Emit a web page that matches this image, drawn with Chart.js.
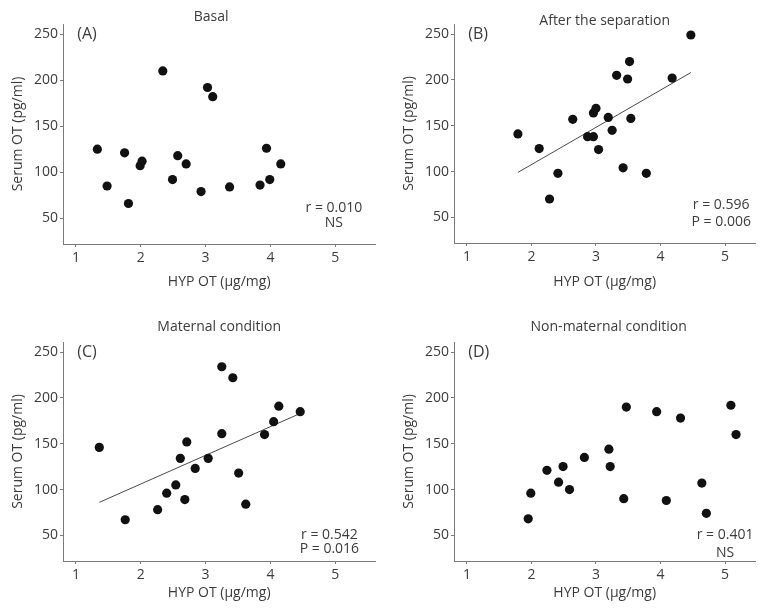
<!DOCTYPE html>
<html>
<head>
<meta charset="utf-8">
<script src="https://cdn.jsdelivr.net/npm/chart.js@4.4.1/dist/chart.umd.min.js"></script>
<style>
  html, body { margin: 0; padding: 0; background: #fff; }
  body { width: 760px; height: 608px; position: relative; overflow: hidden; }
  .panel { position: absolute; }
</style>
</head>
<body>
<div class="panel" style="left:0;top:0;width:380px;height:300px"><canvas id="chartA"></canvas></div>
<div class="panel" style="left:391px;top:0;width:369px;height:300px"><canvas id="chartB"></canvas></div>
<div class="panel" style="left:0;top:300px;width:380px;height:308px"><canvas id="chartC"></canvas></div>
<div class="panel" style="left:391px;top:300px;width:369px;height:308px"><canvas id="chartD"></canvas></div>
<script>
// tick labels
const xTicks = [1, 2, 3, 4, 5];
const yTicks = [50, 100, 150, 200, 250];

// (A) basal
const basalX = [1.33, 1.48, 1.75, 1.81, 1.99, 2.02, 2.34, 2.49, 2.57, 2.70, 2.93, 3.03, 3.11, 3.37, 3.84, 3.94, 3.99, 4.16];
const basalY = [125, 85, 121, 66, 107, 112, 210, 92, 118, 109, 79, 192, 182, 84, 86, 126, 92, 109];

// (B) after the separation
const separationX = [1.79, 2.12, 2.28, 2.41, 2.64, 2.87, 2.96, 2.96, 3.00, 3.04, 3.19, 3.25, 3.32, 3.42, 3.49, 3.52, 3.54, 3.78, 4.18, 4.47];
const separationY = [141, 125, 70, 98, 157, 138, 138, 164, 169, 124, 159, 145, 205, 104, 201, 220, 158, 98, 202, 249];
const separationFitX = [1.79, 4.47];
const separationFitY = [99, 208];

// (C) maternal condition
const maternalX = [1.36, 1.76, 2.26, 2.40, 2.54, 2.61, 2.68, 2.71, 2.84, 3.04, 3.25, 3.25, 3.42, 3.51, 3.62, 3.91, 4.05, 4.13, 4.46];
const maternalY = [146, 67, 78, 96, 105, 134, 89, 152, 123, 134, 161, 234, 222, 118, 84, 160, 174, 191, 185];
const maternalFitX = [1.36, 4.46];
const maternalFitY = [86, 183];

// (D) non-maternal condition
const nonMaternalX = [1.95, 1.99, 2.24, 2.42, 2.49, 2.59, 2.82, 3.20, 3.22, 3.43, 3.47, 3.94, 4.09, 4.31, 4.64, 4.71, 5.09, 5.17];
const nonMaternalY = [68, 96, 121, 108, 125, 100, 135, 144, 125, 90, 190, 185, 88, 178, 107, 74, 192, 160];

const panelTitles = ["Basal", "After the separation", "Maternal condition", "Non-maternal condition"];
const panelLetters = ["(A)", "(B)", "(C)", "(D)"];
const panelStats = [["r = 0.010", "NS"], ["r = 0.596", "P = 0.006"], ["r = 0.542", "P = 0.016"], ["r = 0.401", "NS"]];

const TEXT = "#3c3c3c";
const AXIS = "#7a7a7a";
const DOT = "#111";
const FAMILY = "'Open Sans', 'Noto Sans', sans-serif";

const $ = (id) => document.getElementById(id);

function toPoints(xs, ys) {
  return xs.map((x, i) => ({ x, y: ys[i] }));
}

// titles, panel letters and r / P notes
const panelText = {
  id: "panelText",
  afterDatasetsDraw(chart, args, opts) {
    const { ctx, chartArea } = chart;
    const sx = chart.scales.x;
    const sy = chart.scales.y;
    ctx.save();
    ctx.fillStyle = TEXT;
    ctx.textBaseline = "middle";

    ctx.font = `14px ${FAMILY}`;
    ctx.textAlign = "center";
    ctx.fillText(opts.title, (chartArea.left + chartArea.right) / 2 + opts.titleShift, opts.titleY);

    ctx.font = `16px ${FAMILY}`;
    ctx.textAlign = "left";
    ctx.fillText(opts.letter, sx.getPixelForValue(1.02), sy.getPixelForValue(250));

    ctx.font = `14px ${FAMILY}`;
    ctx.textAlign = "center";
    opts.stats.forEach((line, i) => {
      ctx.fillText(line, sx.getPixelForValue(opts.statX), sy.getPixelForValue(opts.statY[i]));
    });
    ctx.restore();
  }
};

function makeChart(id, cfg) {
  const font = { family: FAMILY, size: 14 };
  const datasets = [{
    data: toPoints(cfg.xs, cfg.ys),
    backgroundColor: DOT,
    borderWidth: 0,
    pointRadius: 4.6
  }];
  if (cfg.fitX) {
    datasets.push({
      data: toPoints(cfg.fitX, cfg.fitY),
      showLine: true,
      borderColor: "#4a4a4a",
      borderWidth: 1,
      pointRadius: 0
    });
  }

  return new Chart($(id), {
    type: "scatter",
    data: { datasets },
    options: {
      responsive: true,
      maintainAspectRatio: false,
      animation: false,
      layout: { padding: { top: cfg.padTop, left: 0, right: 0, bottom: 0 } },
      plugins: {
        legend: { display: false },
        tooltip: { enabled: false },
        panelText: cfg.text
      },
      scales: {
        x: {
          type: "linear",
          min: 0.8,
          max: cfg.xMax,
          afterBuildTicks: (axis) => { axis.ticks = xTicks.map((v) => ({ value: v })); },
          afterFit: (axis) => { axis.height = cfg.xAxisHeight; },
          grid: { drawOnChartArea: false, drawTicks: true, tickLength: 3, color: AXIS },
          border: { color: AXIS, width: 1 },
          ticks: { font, color: TEXT, padding: 3, maxRotation: 0 },
          title: { display: true, text: "HYP OT (μg/mg)", font, color: TEXT, padding: { top: 0, bottom: cfg.xTitlePad } }
        },
        y: {
          type: "linear",
          min: 22,
          max: 261,
          afterBuildTicks: (axis) => { axis.ticks = yTicks.map((v) => ({ value: v })); },
          afterFit: (axis) => { axis.width = 63; },
          grid: { drawOnChartArea: false, drawTicks: true, tickLength: 3, color: AXIS },
          border: { color: AXIS, width: 1 },
          ticks: { font, color: TEXT, padding: 2 },
          title: { display: true, text: "Serum OT (pg/ml)", font, color: TEXT, padding: { top: 9.6, bottom: 0 } }
        }
      }
    },
    plugins: [panelText]
  });
}

document.addEventListener("DOMContentLoaded", () => {
  makeChart("chartA", {
    xs: basalX, ys: basalY,
    xMax: 5.62, padTop: 24, xAxisHeight: 56, xTitlePad: 9.6,
    text: { title: panelTitles[0], titleY: 17, titleShift: -8, letter: panelLetters[0],
            stats: panelStats[0], statX: 4.98, statY: [61.4, 44.9] }
  });
  makeChart("chartB", {
    xs: separationX, ys: separationY, fitX: separationFitX, fitY: separationFitY,
    xMax: 5.47, padTop: 24, xAxisHeight: 57, xTitlePad: 9.6,
    text: { title: panelTitles[1], titleY: 21, titleShift: 0, letter: panelLetters[1],
            stats: panelStats[1], statX: 4.94, statY: [63.5, 44.9] }
  });
  makeChart("chartC", {
    xs: maternalX, ys: maternalY, fitX: maternalFitX, fitY: maternalFitY,
    xMax: 5.62, padTop: 42, xAxisHeight: 47, xTitlePad: 6.3,
    text: { title: panelTitles[2], titleY: 27, titleShift: 0, letter: panelLetters[2],
            stats: panelStats[2], statX: 4.91, statY: [50.3, 34.7] }
  });
  makeChart("chartD", {
    xs: nonMaternalX, ys: nonMaternalY,
    xMax: 5.47, padTop: 42, xAxisHeight: 47, xTitlePad: 6.3,
    text: { title: panelTitles[3], titleY: 27, titleShift: 4, letter: panelLetters[3],
            stats: panelStats[3], statX: 5.0, statY: [50, 30.7] }
  });
});
</script>
</body>
</html>
